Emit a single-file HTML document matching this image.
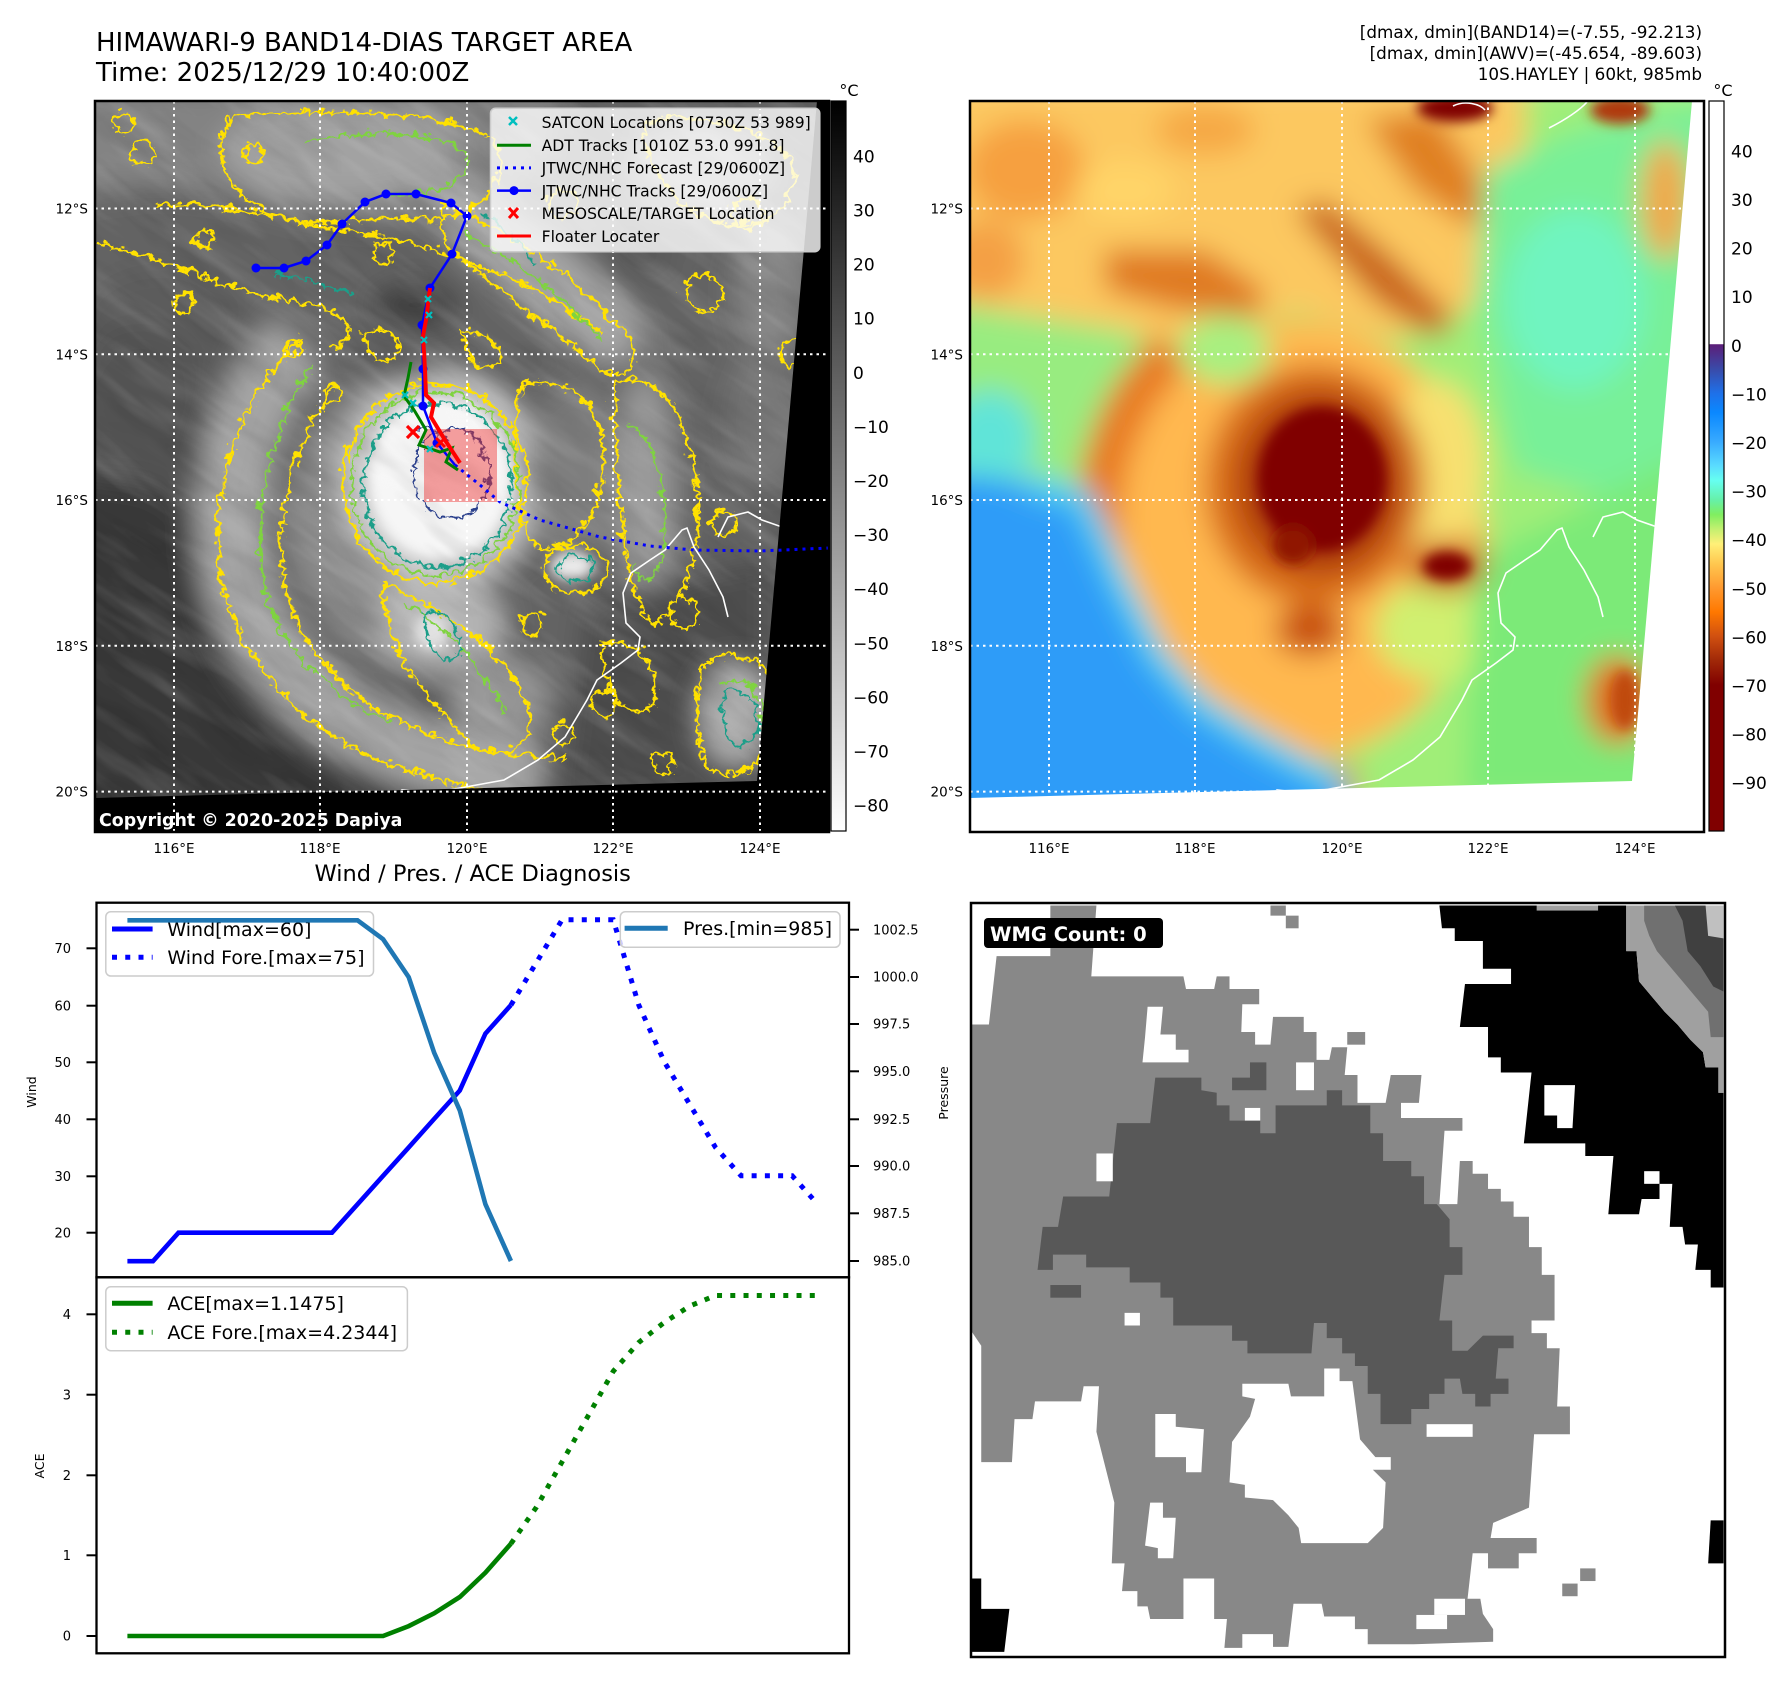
<!DOCTYPE html>
<html><head><meta charset="utf-8">
<style>
html,body{margin:0;padding:0;background:#fff;}
svg{display:block;}
text{font-family:"DejaVu Sans","Liberation Sans",sans-serif;}
</style></head><body>
<svg xmlns="http://www.w3.org/2000/svg" width="1788" height="1690" viewBox="0 0 1788 1690">
<defs>
<filter id="b14" filterUnits="userSpaceOnUse" x="0" y="0" width="1000" height="900"><feGaussianBlur stdDeviation="14"/></filter>
<filter id="b6" filterUnits="userSpaceOnUse" x="0" y="0" width="1000" height="900"><feGaussianBlur stdDeviation="6"/></filter>
<filter id="wig" filterUnits="userSpaceOnUse" x="80" y="90" width="770" height="760"><feTurbulence type="turbulence" baseFrequency="0.08" numOctaves="2" seed="3" result="t"/><feDisplacementMap in="SourceGraphic" in2="t" scale="13" xChannelSelector="R" yChannelSelector="G"/></filter>
<filter id="texw" filterUnits="userSpaceOnUse" x="-400" y="-400" width="1800" height="1800"><feTurbulence type="fractalNoise" baseFrequency="0.008 0.045" numOctaves="3" seed="5"/><feColorMatrix type="matrix" values="0 0 0 0 1 0 0 0 0 1 0 0 0 0 1 1.5 0 0 0 -0.7"/></filter>
<filter id="texk" filterUnits="userSpaceOnUse" x="-400" y="-400" width="1800" height="1800"><feTurbulence type="fractalNoise" baseFrequency="0.01 0.035" numOctaves="3" seed="11"/><feColorMatrix type="matrix" values="0 0 0 0 0 0 0 0 0 0 0 0 0 0 0 1.5 0 0 0 -0.7"/></filter>
<clipPath id="cl"><polygon points="95,101 817,101 757,781 95,798"/></clipPath>
<clipPath id="cr"><polygon points="970,101 1692,101 1632,781 970,798"/></clipPath>
<linearGradient id="gl" x1="0" y1="0" x2="0" y2="1"><stop offset="0" stop-color="#000"/><stop offset="1" stop-color="#fff"/></linearGradient>
<linearGradient id="gr" x1="0" y1="0" x2="0" y2="1">
<stop offset="0" stop-color="#fff"/><stop offset="0.333" stop-color="#fff"/>
<stop offset="0.3334" stop-color="#5c1e78"/><stop offset="0.3667" stop-color="#3a4aa8"/>
<stop offset="0.4" stop-color="#1f70e8"/><stop offset="0.4267" stop-color="#0a88ff"/>
<stop offset="0.4667" stop-color="#38aaff"/><stop offset="0.5" stop-color="#5adcff"/>
<stop offset="0.52" stop-color="#66fff0"/><stop offset="0.5467" stop-color="#66f0a8"/>
<stop offset="0.5667" stop-color="#80ee60"/><stop offset="0.5867" stop-color="#c4f070"/>
<stop offset="0.6067" stop-color="#fff078"/><stop offset="0.6333" stop-color="#ffc850"/>
<stop offset="0.6667" stop-color="#ff9a30"/><stop offset="0.7" stop-color="#ff7800"/>
<stop offset="0.7333" stop-color="#d05010"/><stop offset="0.7667" stop-color="#a02808"/>
<stop offset="0.8" stop-color="#800000"/><stop offset="1" stop-color="#800000"/>
</linearGradient>
</defs>
<rect width="1788" height="1690" fill="#fff"/>

<!-- Titles -->
<text x="96" y="51" font-size="26">HIMAWARI-9 BAND14-DIAS TARGET AREA</text>
<text x="96" y="81" font-size="26">Time: 2025/12/29 10:40:00Z</text>
<text x="1702" y="38" font-size="16.8" text-anchor="end">[dmax, dmin](BAND14)=(-7.55, -92.213)</text>
<text x="1702" y="59" font-size="16.8" text-anchor="end">[dmax, dmin](AWV)=(-45.654, -89.603)</text>
<text x="1702" y="80" font-size="16.8" text-anchor="end">10S.HAYLEY | 60kt, 985mb</text>

<!-- ============ LEFT MAP ============ -->
<rect x="95" y="101" width="734" height="731" fill="#000"/>
<g clip-path="url(#cl)">
 <g filter="url(#b14)">
  <rect x="60" y="80" width="800" height="740" fill="#646464"/>
  <path d="M60,80 H570 L545,170 L470,215 L380,222 L300,215 L220,192 L150,186 L60,200Z" fill="#828282"/>
  <ellipse cx="340" cy="150" rx="120" ry="50" fill="#a2a2a2"/>
  <path d="M420,190 L470,180 L560,240 L625,300 L645,350 L605,365 L540,320 L470,260Z" fill="#a6a6a6"/>
  <ellipse cx="700" cy="170" rx="70" ry="45" fill="#9a9a9a"/>
  <ellipse cx="640" cy="255" rx="40" ry="30" fill="#5a5a5a"/>
  <ellipse cx="770" cy="290" rx="35" ry="70" fill="#888"/>
  <ellipse cx="415" cy="305" rx="45" ry="22" fill="#3e3e3e"/>
  <ellipse cx="150" cy="140" rx="55" ry="28" fill="#848484"/>
  <ellipse cx="160" cy="330" rx="80" ry="60" fill="#5c5c5c"/>
  <ellipse cx="140" cy="430" rx="75" ry="100" fill="#525252"/>
  <path d="M40,470 L150,485 L207,523 L217,563 L231,597 L251,623 L270,647 L295,673 L319,693 L353,717 L382,740 L407,760 L431,773 L470,783 L560,790 L560,850 L40,850Z" fill="#383838"/>
  <path d="M300,345 C250,390 225,470 232,550 C240,630 290,690 360,730 C420,760 480,775 540,775" fill="none" stroke="#a4a4a4" stroke-width="70"/>
  <ellipse cx="400" cy="520" rx="110" ry="140" fill="#8c8c8c"/>
  <ellipse cx="440" cy="482" rx="100" ry="108" fill="#c8c8c8"/>
  <ellipse cx="440" cy="625" rx="65" ry="45" fill="#b4b4b4"/>
  <ellipse cx="575" cy="470" rx="50" ry="90" fill="#7e7e7e"/>
  <ellipse cx="645" cy="490" rx="30" ry="120" fill="#9a9a9a"/>
  <ellipse cx="765" cy="420" rx="40" ry="70" fill="#787878"/>
  <path d="M585,600 L770,560 L770,800 L560,800Z" fill="#4e4e4e"/>
  <ellipse cx="735" cy="715" rx="35" ry="50" fill="#b2b2b2"/>
  <ellipse cx="500" cy="700" rx="50" ry="40" fill="#9a9a9a"/>
 </g>
 <g filter="url(#b6)">
  <ellipse cx="440" cy="478" rx="72" ry="82" fill="#f6f6f6"/>
  <ellipse cx="572" cy="566" rx="22" ry="14" fill="#eaeaea"/>
  <ellipse cx="432" cy="632" rx="18" ry="18" fill="#e0e0e0"/>
 </g>
 <g transform="rotate(35 460 450)">
  <rect x="-200" y="-200" width="1300" height="1300" filter="url(#texw)" opacity="0.22"/>
  <rect x="-200" y="-200" width="1300" height="1300" filter="url(#texk)" opacity="0.15"/>
 </g>
 <!-- contours -->
 <g filter="url(#wig)" fill="none" stroke-width="2.8">
  <g stroke="#ffe100">
   <ellipse cx="432" cy="480" rx="92" ry="100"/>
   <path d="M298,335 C245,385 210,465 215,550 C222,635 275,700 345,742 C410,775 480,790 545,792"/>
   <path d="M335,380 C295,430 272,500 280,575 C292,645 345,695 410,725 C460,745 515,755 565,755"/>
   <path d="M152,201 C200,200 260,210 300,220 C360,228 420,240 470,260 C520,280 560,300 600,330"/>
   <path d="M230,112 C300,108 420,104 482,130 C525,160 475,222 420,216 C350,210 300,232 250,202 C220,182 205,140 230,112Z"/>
   <path d="M440,200 C500,228 565,262 622,330 C642,362 620,382 590,362 C550,322 490,282 440,240Z"/>
   <path d="M612,380 C642,360 682,402 692,470 C702,540 682,602 652,622 C622,602 612,500 612,380Z"/>
   <path d="M700,660 C742,640 782,662 772,722 C762,772 722,782 702,762 C690,722 690,690 700,660Z"/>
   <ellipse cx="572" cy="566" rx="32" ry="24"/>
   <path d="M380,580 C430,600 500,640 522,700 C540,740 500,762 470,742 C430,702 380,652 380,580Z"/>
   <path d="M520,380 C560,370 600,400 600,450 C600,520 560,560 530,540 C510,500 505,420 520,380Z"/>
   <path d="M640,120 C680,105 760,120 790,160 C800,200 760,230 720,220 C680,210 640,170 640,120Z"/>
   <path d="M95,240 C150,250 220,290 300,300 C340,305 360,330 330,345"/>
   <path d="M600,640 C630,630 660,660 650,700 C630,720 600,700 600,640Z"/>
   <path d="M360,330 C380,320 400,330 395,350 C385,365 360,355 360,330Z"/>
   <path d="M460,330 C480,325 500,340 495,360 C480,370 460,360 460,330Z"/>
   <circle cx="140" cy="150" r="12"/><circle cx="180" cy="300" r="10"/><circle cx="560" cy="200" r="14"/>
   <circle cx="700" cy="290" r="18"/><circle cx="745" cy="210" r="16"/><circle cx="120" cy="120" r="9"/>
   <circle cx="600" cy="700" r="13"/><circle cx="680" cy="610" r="14"/><circle cx="530" cy="620" r="11"/>
   <circle cx="790" cy="350" r="14"/><circle cx="250" cy="150" r="9"/><circle cx="380" cy="250" r="10"/>
   <circle cx="200" cy="235" r="9"/><circle cx="290" cy="345" r="8"/><circle cx="330" cy="390" r="9"/>
   <circle cx="720" cy="520" r="12"/><circle cx="660" cy="760" r="10"/><circle cx="560" cy="730" r="10"/>
  </g>
  <g stroke="#7fd33f" stroke-width="2.4">
   <ellipse cx="432" cy="480" rx="84" ry="92"/>
   <path d="M310,360 C270,420 250,500 258,570 C270,640 320,690 390,720"/>
   <path d="M300,140 C360,125 430,125 462,150 C470,180 430,195 390,190"/>
   <path d="M460,230 C520,260 570,300 600,340"/>
   <path d="M625,420 C650,430 665,480 660,540 C655,580 640,590 630,560"/>
   <path d="M400,600 C440,620 480,660 500,710"/>
   <path d="M715,680 C745,670 765,690 760,730"/>
  </g>
  <g stroke="#1f9e89" stroke-width="2.4">
   <ellipse cx="434" cy="482" rx="74" ry="82"/>
   <ellipse cx="572" cy="566" rx="18" ry="13"/>
   <path d="M720,690 C740,680 760,700 755,730 C745,750 725,745 720,720Z"/>
   <path d="M420,610 C440,600 460,620 455,650 C440,665 420,650 420,610Z"/>
   <path d="M270,270 C300,275 330,285 350,290"/>
   <path d="M480,210 C500,225 520,240 530,260"/>
  </g>
  <g stroke="#2c3f8c" stroke-width="2">
   <ellipse cx="448" cy="470" rx="38" ry="45"/>
   <path d="M410,430 C420,420 440,425 445,440"/>
  </g>
 </g>
 <!-- coastline -->
 <g fill="none" stroke="#fff" stroke-width="1.6">
  <path d="M387,802 L402,790 L431,793 L460,788 L504,780 L538,760 L565,737 L587,700 L597,680 L621,663 L638,650 L640,637 L626,623 L623,593 L631,573 L650,560 L665,550 L682,530 L687,528 L694,547 L709,570 L723,597 L728,617"/>
  <path d="M718,537 L728,517 L748,512 L762,520 L782,527 L823,530"/>
  <path d="M792,490 L806,487 L792,470 L811,447 L821,430"/>
 </g>
</g>
<!-- pink target box -->
<rect x="424" y="429" width="73" height="73" fill="#f03030" opacity="0.45"/>
<!-- tracks -->
<polyline points="455,465 480,485 500,502 540,520 600,537 650,546 694,550 760,551 829,548" fill="none" stroke="#0000ff" stroke-width="3" stroke-dasharray="3 5"/>
<polyline points="256,268 284,268 306,261 327,245 342,224 365,202 386,194 416,194 451,203 467,216 452,254 430,288 422,325 423,369 423,406 437,443 455,465" fill="none" stroke="#0000ff" stroke-width="2.5"/>
<g fill="#0000ff">
 <circle cx="256" cy="268" r="4.5"/><circle cx="284" cy="268" r="4.5"/><circle cx="306" cy="261" r="4.5"/><circle cx="327" cy="245" r="4.5"/><circle cx="342" cy="224" r="4.5"/><circle cx="365" cy="202" r="4.5"/><circle cx="386" cy="194" r="4.5"/><circle cx="416" cy="194" r="4.5"/><circle cx="451" cy="203" r="4.5"/><circle cx="467" cy="216" r="4.5"/><circle cx="452" cy="254" r="4.5"/><circle cx="430" cy="288" r="4.5"/><circle cx="422" cy="325" r="4.5"/><circle cx="423" cy="369" r="4.5"/><circle cx="423" cy="406" r="4.5"/><circle cx="437" cy="443" r="4.5"/>
</g>
<polyline points="411,362 408,378 404,396 414,410 426,430 419,445 440,452 452,448 446,462 458,470" fill="none" stroke="#008000" stroke-width="3"/>
<polyline points="430,288 426,320 423,336 425,370 426,395 434,403 431,417 445,440 460,463" fill="none" stroke="#ff0000" stroke-width="4"/>
<g stroke="#00c0c0" stroke-width="2.2">
 <path d="M425,296 l6,6 M431,296 l-6,6"/><path d="M426,312 l6,6 M432,312 l-6,6"/><path d="M421,337 l6,6 M427,337 l-6,6"/>
 <path d="M402,392 l6,6 M408,392 l-6,6"/><path d="M410,400 l6,6 M416,400 l-6,6"/><path d="M427,446 l6,6 M433,446 l-6,6"/>
</g>
<path d="M407,426 l12,12 M419,426 l-12,12" stroke="#ff0000" stroke-width="3.2"/>
<path d="M436,438 l9,9 M445,438 l-9,9" stroke="#ff0000" stroke-width="3"/>
<!-- gridlines left -->
<g stroke="#fff" stroke-width="2" stroke-dasharray="2.5 4">
 <line x1="174" y1="101" x2="174" y2="832"/><line x1="320" y1="101" x2="320" y2="832"/><line x1="467" y1="101" x2="467" y2="832"/><line x1="613" y1="101" x2="613" y2="832"/><line x1="760" y1="101" x2="760" y2="832"/>
 <line x1="95" y1="208.5" x2="829" y2="208.5"/><line x1="95" y1="354.3" x2="829" y2="354.3"/><line x1="95" y1="500" x2="829" y2="500"/><line x1="95" y1="645.8" x2="829" y2="645.8"/><line x1="95" y1="791.6" x2="829" y2="791.6"/>
</g>
<text x="99" y="826" font-size="17.4" font-weight="bold" fill="#fff">Copyright © 2020-2025 Dapiya</text>
<!-- legend map -->
<rect x="490.5" y="108.3" width="329.3" height="143.4" rx="5" fill="#fff" fill-opacity="0.8" stroke="#cccccc" stroke-width="1.5"/>
<g font-size="15.6">
 <path d="M509,117 l8,8 M517,117 l-8,8" stroke="#00bfbf" stroke-width="2.5"/>
 <text x="541.6" y="128">SATCON Locations [0730Z 53 989]</text>
 <line x1="497" y1="145.2" x2="531" y2="145.2" stroke="#008000" stroke-width="3"/>
 <text x="541.6" y="151">ADT Tracks [1010Z 53.0 991.8]</text>
 <line x1="497" y1="167.9" x2="531" y2="167.9" stroke="#0000ff" stroke-width="3" stroke-dasharray="3 5"/>
 <text x="541.6" y="173.7">JTWC/NHC Forecast [29/0600Z]</text>
 <line x1="497" y1="190.6" x2="531" y2="190.6" stroke="#0000ff" stroke-width="2.5"/><circle cx="514" cy="190.6" r="4.5" fill="#0000ff"/>
 <text x="541.6" y="196.4">JTWC/NHC Tracks [29/0600Z]</text>
 <path d="M509,208 l9,10 M518,208 l-9,10" stroke="#ff0000" stroke-width="3"/>
 <text x="541.6" y="219.1">MESOSCALE/TARGET Location</text>
 <line x1="497" y1="236" x2="531" y2="236" stroke="#ff0000" stroke-width="3"/>
 <text x="541.6" y="241.8">Floater Locater</text>
</g>
<rect x="95" y="101" width="734" height="731" fill="none" stroke="#000" stroke-width="2.5"/>
<!-- left colorbar -->
<rect x="831" y="101" width="15" height="730" fill="url(#gl)" stroke="#000" stroke-width="1.2"/>
<text x="849" y="96" font-size="16" text-anchor="middle">°C</text>
<g font-size="17">
 <text x="853" y="162.4">40</text><text x="853" y="216.5">30</text><text x="853" y="270.6">20</text><text x="853" y="324.7">10</text><text x="853" y="378.8">0</text>
 <text x="853" y="432.9">−10</text><text x="853" y="487">−20</text><text x="853" y="541.1">−30</text><text x="853" y="595.2">−40</text><text x="853" y="649.3">−50</text><text x="853" y="703.4">−60</text><text x="853" y="757.5">−70</text><text x="853" y="811.6">−80</text>
</g>
<!-- lat/lon labels -->
<g font-size="13.5" text-anchor="end">
 <text x="88" y="213.5">12°S</text><text x="88" y="359.3">14°S</text><text x="88" y="505">16°S</text><text x="88" y="650.8">18°S</text><text x="88" y="796.6">20°S</text>
 <text x="963" y="213.5">12°S</text><text x="963" y="359.3">14°S</text><text x="963" y="505">16°S</text><text x="963" y="650.8">18°S</text><text x="963" y="796.6">20°S</text>
</g>
<g font-size="13.5" text-anchor="middle">
 <text x="174" y="853">116°E</text><text x="320" y="853">118°E</text><text x="467" y="853">120°E</text><text x="613" y="853">122°E</text><text x="760" y="853">124°E</text>
 <text x="1049" y="853">116°E</text><text x="1195" y="853">118°E</text><text x="1342" y="853">120°E</text><text x="1488" y="853">122°E</text><text x="1635" y="853">124°E</text>
</g>

<!-- ============ RIGHT MAP ============ -->
<g clip-path="url(#cr)">
 <g transform="translate(875,0)">
  <g filter="url(#b14)">
   <rect x="60" y="80" width="800" height="740" fill="#a0ee78"/>
   <path d="M60,80 L650,80 L650,180 L610,300 L520,340 L420,310 L330,340 L230,345 L150,330 L60,300Z" fill="#fcc860"/>
   <ellipse cx="150" cy="170" rx="60" ry="50" fill="#f6a040"/>
   <ellipse cx="110" cy="260" rx="40" ry="40" fill="#f4a044"/>
   <ellipse cx="330" cy="130" rx="50" ry="25" fill="#f6a844"/>
   <path d="M230,250 L330,250 L390,290 L380,320 L300,310 L230,290Z" fill="#e07a20"/>
   <path d="M420,210 L450,200 L520,260 L580,320 L560,340 L500,300Z" fill="#c86014"/>
   <path d="M490,120 L560,110 L620,200 L600,230 L540,190Z" fill="#e08020"/>
   <ellipse cx="250" cy="190" rx="50" ry="30" fill="#ffd468"/>
   <path d="M610,170 L700,130 L840,100 L840,440 L740,500 L640,470 L600,300Z" fill="#78f098"/>
   <ellipse cx="700" cy="300" rx="70" ry="90" fill="#70f4c0"/>
   <ellipse cx="790" cy="200" rx="25" ry="60" fill="#f0a848"/>
   <path d="M60,300 L250,330 L320,360 L300,440 L200,470 L60,480Z" fill="#98ec80"/>
   <ellipse cx="115" cy="440" rx="45" ry="50" fill="#60e4d8"/>
   <ellipse cx="420" cy="540" rx="190" ry="220" fill="#ffb850"/>
   <path d="M300,350 C240,400 215,480 225,560 C235,640 280,700 340,740 C390,770 440,785 480,790" fill="none" stroke="#e87a20" stroke-width="45"/>
   <ellipse cx="350" cy="350" rx="45" ry="35" fill="#a8f080"/>
   <ellipse cx="560" cy="470" rx="50" ry="90" fill="#f8e070"/>
   <ellipse cx="560" cy="630" rx="60" ry="50" fill="#d0f070"/>
   <path d="M600,560 L840,440 L840,800 L590,800Z" fill="#7cea78"/>
   <ellipse cx="742" cy="700" rx="32" ry="45" fill="#e07020"/>
   <ellipse cx="440" cy="485" rx="110" ry="120" fill="#d86c18"/>
   <ellipse cx="445" cy="482" rx="82" ry="90" fill="#a83410"/>
   <ellipse cx="435" cy="630" rx="35" ry="25" fill="#c85010"/>
   <ellipse cx="572" cy="566" rx="40" ry="26" fill="#c85818"/>
   <path d="M40,470 L150,482 L207,499 L244,582 L281,655 L324,704 L377,738 L430,767 L467,787 L480,850 L40,850Z" fill="#2e9cf8"/>
   <path d="M150,482 L207,499 L244,582 L281,655 L324,704 L377,738 L430,767 L467,787" fill="none" stroke="#50d0f0" stroke-width="22"/>
  </g>
  <g filter="url(#b6)">
   <ellipse cx="447" cy="479" rx="64" ry="72" fill="#800000"/>
   <ellipse cx="418" cy="545" rx="20" ry="19" fill="#901800"/>
   <ellipse cx="572" cy="566" rx="24" ry="14" fill="#800000"/>
   <ellipse cx="580" cy="108" rx="38" ry="14" fill="#800000"/>
   <ellipse cx="745" cy="110" rx="30" ry="14" fill="#b03808"/>
   <ellipse cx="750" cy="700" rx="14" ry="30" fill="#c04810"/>
  </g>
  <g fill="none" stroke="#fff" stroke-width="1.6">
   <path d="M387,802 L402,790 L431,793 L460,788 L504,780 L538,760 L565,737 L587,700 L597,680 L621,663 L638,650 L640,637 L626,623 L623,593 L631,573 L650,560 L665,550 L682,530 L687,528 L694,547 L709,570 L723,597 L728,617"/>
   <path d="M718,537 L728,517 L748,512 L762,520 L782,527 L823,530"/>
   <path d="M578,106 C590,100 605,104 610,110 M674,128 C690,120 705,110 712,102"/>
  </g>
 </g>
</g>
<g stroke="#fff" stroke-width="2" stroke-dasharray="2.5 4">
 <line x1="1049" y1="101" x2="1049" y2="832"/><line x1="1195" y1="101" x2="1195" y2="832"/><line x1="1342" y1="101" x2="1342" y2="832"/><line x1="1488" y1="101" x2="1488" y2="832"/><line x1="1635" y1="101" x2="1635" y2="832"/>
 <line x1="970" y1="208.5" x2="1704" y2="208.5"/><line x1="970" y1="354.3" x2="1704" y2="354.3"/><line x1="970" y1="500" x2="1704" y2="500"/><line x1="970" y1="645.8" x2="1704" y2="645.8"/><line x1="970" y1="791.6" x2="1704" y2="791.6"/>
</g>
<rect x="970" y="101" width="734" height="731" fill="none" stroke="#000" stroke-width="2.5"/>
<rect x="1709" y="101" width="15" height="730" fill="url(#gr)" stroke="#000" stroke-width="1.2"/>
<text x="1723" y="96" font-size="16" text-anchor="middle">°C</text>
<g font-size="17">
 <text x="1731" y="157.4">40</text><text x="1731" y="206">30</text><text x="1731" y="254.6">20</text><text x="1731" y="303.2">10</text><text x="1731" y="351.8">0</text>
 <text x="1731" y="400.4">−10</text><text x="1731" y="449">−20</text><text x="1731" y="497.6">−30</text><text x="1731" y="546.2">−40</text><text x="1731" y="594.8">−50</text><text x="1731" y="643.4">−60</text><text x="1731" y="692">−70</text><text x="1731" y="740.6">−80</text><text x="1731" y="789.2">−90</text>
</g>

<!-- ============ WIND / PRES CHART ============ -->
<text x="472.7" y="881" font-size="22.5" text-anchor="middle">Wind / Pres. / ACE Diagnosis</text>
<rect x="105.8" y="911.7" width="267.7" height="64.3" rx="5" fill="#fff" fill-opacity="0.8" stroke="#cccccc" stroke-width="1.5"/>
<line x1="112" y1="929" x2="152.6" y2="929" stroke="#0000ff" stroke-width="5"/>
<text x="167.4" y="935.8" font-size="19">Wind[max=60]</text>
<line x1="112" y1="957.3" x2="152.6" y2="957.3" stroke="#0000ff" stroke-width="5" stroke-dasharray="5 8.25"/>
<text x="167.4" y="964.1" font-size="19">Wind Fore.[max=75]</text>
<polyline points="127.4,1261.2 153,1261.2 178.5,1232.7 204.1,1232.7 229.7,1232.7 255.3,1232.7 280.8,1232.7 306.4,1232.7 332,1232.7 357.5,1204.3 383.1,1175.8 408.7,1147.4 434.2,1118.9 459.8,1090.5 485.4,1033.6 510.9,1005.1" fill="none" stroke="#0000ff" stroke-width="4.6"/>
<polyline points="510.9,1005.1 536.5,962.4 562.1,919.7 587.7,919.7 613.2,919.7 638.8,1005.1 664.4,1062 689.9,1104.7 715.5,1147.4 741.1,1175.8 766.6,1175.8 792.2,1175.8 817.8,1204.3" fill="none" stroke="#0000ff" stroke-width="5" stroke-dasharray="5 8.25"/>
<polyline points="127.4,920.3 153,920.3 178.5,920.3 204.1,920.3 229.7,920.3 255.3,920.3 280.8,920.3 306.4,920.3 332,920.3 357.5,920.3 383.1,939.2 408.7,977.1 434.2,1052.8 459.8,1110.4 485.4,1204.2 510.9,1261" fill="none" stroke="#1f77b4" stroke-width="4.6"/>
<rect x="620.3" y="911.7" width="219.7" height="35.6" rx="5" fill="#fff" fill-opacity="0.8" stroke="#cccccc" stroke-width="1.5"/>
<line x1="624.6" y1="928.3" x2="667.7" y2="928.3" stroke="#1f77b4" stroke-width="5"/>
<text x="683" y="935.1" font-size="19">Pres.[min=985]</text>
<rect x="96.5" y="902.7" width="752.5" height="374.6" fill="none" stroke="#000" stroke-width="2.3"/>
<g stroke="#000" stroke-width="2">
 <line x1="86.5" y1="948.3" x2="96.5" y2="948.3"/><line x1="86.5" y1="1005.7" x2="96.5" y2="1005.7"/><line x1="86.5" y1="1062.3" x2="96.5" y2="1062.3"/><line x1="86.5" y1="1119.3" x2="96.5" y2="1119.3"/><line x1="86.5" y1="1176.3" x2="96.5" y2="1176.3"/><line x1="86.5" y1="1232.7" x2="96.5" y2="1232.7"/>
 <line x1="849" y1="929.7" x2="859" y2="929.7"/><line x1="849" y1="977" x2="859" y2="977"/><line x1="849" y1="1024" x2="859" y2="1024"/><line x1="849" y1="1071.3" x2="859" y2="1071.3"/><line x1="849" y1="1119.3" x2="859" y2="1119.3"/><line x1="849" y1="1166" x2="859" y2="1166"/><line x1="849" y1="1213.3" x2="859" y2="1213.3"/><line x1="849" y1="1261" x2="859" y2="1261"/>
</g>
<g font-size="13" text-anchor="end">
 <text x="71" y="953">70</text><text x="71" y="1010.4">60</text><text x="71" y="1067">50</text><text x="71" y="1124">40</text><text x="71" y="1181">30</text><text x="71" y="1237.4">20</text>
</g>
<g font-size="13">
 <text x="873" y="934.4">1002.5</text><text x="873" y="981.7">1000.0</text><text x="873" y="1028.7">997.5</text><text x="873" y="1076">995.0</text><text x="873" y="1124">992.5</text><text x="873" y="1170.7">990.0</text><text x="873" y="1218">987.5</text><text x="873" y="1265.7">985.0</text>
</g>
<text transform="translate(36,1092) rotate(-90)" font-size="12.5" text-anchor="middle">Wind</text>
<text transform="translate(948,1093) rotate(-90)" font-size="12.5" text-anchor="middle">Pressure</text>

<!-- ============ ACE CHART ============ -->
<polyline points="127.4,1636 153,1636 178.5,1636 204.1,1636 229.7,1636 255.3,1636 280.8,1636 306.4,1636 332,1636 357.5,1636 383.1,1636 408.7,1626.1 434.2,1613.3 459.8,1597 485.4,1572.7 510.9,1543.7" fill="none" stroke="#008000" stroke-width="4.6"/>
<polyline points="510.9,1543.7 536.5,1507.1 562.1,1461.8 587.7,1416.6 613.2,1371.3 638.8,1342.4 664.4,1322.3 689.9,1306 715.5,1295.5 741.1,1295.5 766.6,1295.5 792.2,1295.5 817.8,1295.5" fill="none" stroke="#008000" stroke-width="5" stroke-dasharray="5 8.25"/>
<rect x="105.8" y="1286.7" width="301.6" height="64" rx="5" fill="#fff" fill-opacity="0.8" stroke="#cccccc" stroke-width="1.5"/>
<line x1="112" y1="1303.3" x2="152.6" y2="1303.3" stroke="#008000" stroke-width="5"/>
<text x="167.4" y="1310.1" font-size="19">ACE[max=1.1475]</text>
<line x1="112" y1="1332.3" x2="152.6" y2="1332.3" stroke="#008000" stroke-width="5" stroke-dasharray="5 8.25"/>
<text x="167.4" y="1339.1" font-size="19">ACE Fore.[max=4.2344]</text>
<rect x="96.5" y="1277.3" width="752.5" height="376" fill="none" stroke="#000" stroke-width="2.3"/>
<g stroke="#000" stroke-width="2">
 <line x1="86.5" y1="1314.3" x2="96.5" y2="1314.3"/><line x1="86.5" y1="1394.7" x2="96.5" y2="1394.7"/><line x1="86.5" y1="1475.3" x2="96.5" y2="1475.3"/><line x1="86.5" y1="1555.3" x2="96.5" y2="1555.3"/><line x1="86.5" y1="1636" x2="96.5" y2="1636"/>
</g>
<g font-size="13" text-anchor="end">
 <text x="71" y="1319">4</text><text x="71" y="1399.4">3</text><text x="71" y="1480">2</text><text x="71" y="1560">1</text><text x="71" y="1640.7">0</text>
</g>
<text transform="translate(44,1466) rotate(-90)" font-size="12.5" text-anchor="middle">ACE</text>

<!-- ============ WMG PANEL ============ -->
<g transform="translate(971,903) scale(0.5119,0.506) translate(-20,-25)">
 <rect x="20" y="25" width="1473" height="1490" fill="#fff"/>
 <polygon fill="#888888" points="20,265 55,265 70,130 175,130 175,30 265,30 255,170 345,170 435,170 440,195 495,195 500,170 525,170 525,195 583,195 583,225 550,225 548,280 575,280 575,305 605,305 610,250 670,250 670,280 695,280 695,335 720,335 725,310 755,310 750,365 775,365 775,420 830,420 840,365 900,365 895,420 860,420 860,450 980,450 980,475 945,475 935,620 970,620 975,535 1000,535 1000,560 1030,560 1030,590 1055,590 1055,615 1080,615 1080,645 1110,645 1110,705 1135,705 1135,760 1160,760 1160,850 1115,850 1115,875 1145,875 1145,905 1170,905 1165,1020 1190,1020 1190,1075 1120,1075 1110,1220 1040,1250 1035,1280 1125,1280 1125,1310 1090,1310 1090,1340 1030,1340 1030,1310 1000,1310 990,1400 1015,1400 1020,1430 1040,1460 1040,1485 885,1490 795,1490 795,1460 770,1460 770,1435 710,1435 705,1410 650,1410 640,1495 610,1495 610,1470 550,1470 550,1497 515,1497 520,1440 495,1440 495,1360 435,1360 435,1440 370,1440 365,1415 345,1415 345,1385 315,1385 320,1330 295,1330 300,1210 285,1150 265,1070 270,980 240,980 235,1010 145,1010 140,1045 105,1045 100,1130 40,1130 40,900 20,870"/>
 <g fill="#888888">
  <rect x="605" y="30" width="30" height="20"/><rect x="635" y="50" width="25" height="25"/><rect x="1175" y="1370" width="30" height="25"/><rect x="1210" y="1340" width="30" height="25"/><rect x="755" y="280" width="35" height="25"/>
 </g>
 <polygon fill="#585858" points="380,370 470,370 470,395 500,400 500,425 525,425 525,455 585,455 585,480 615,480 615,425 715,425 715,395 745,395 745,425 800,425 800,480 825,480 825,535 880,535 880,565 905,565 905,620 930,620 955,650 955,705 980,705 980,760 945,760 935,850 960,850 960,910 990,910 1020,880 1080,880 1080,905 1050,905 1045,965 1070,965 1070,995 1035,995 1035,1020 1005,1020 1005,995 980,995 975,965 945,965 945,995 915,995 915,1025 880,1025 880,1055 820,1055 820,995 795,995 795,940 770,940 770,915 745,915 745,885 715,885 715,855 690,855 685,915 560,915 560,890 530,890 530,860 415,860 415,805 390,805 390,775 330,775 330,745 245,745 245,720 180,720 180,750 150,750 160,665 190,665 200,605 290,605 305,460 370,460"/>
 <polygon fill="#585858" points="530,370 565,370 565,340 597,340 597,395 530,395"/>
 <rect x="175" y="780" width="60" height="25" fill="#585858"/>
 <g fill="#fff">
  <polygon points="550,975 640,975 645,1000 710,1000 710,945 740,945 740,970 765,970 780,1085 810,1120 840,1120 840,1145 805,1145 830,1170 825,1260 795,1290 665,1290 660,1260 640,1235 610,1205 555,1200 555,1175 525,1170 530,1090 565,1040 575,1005 550,1000"/>
  <polygon points="380,1035 420,1035 420,1060 475,1065 470,1150 440,1150 440,1120 380,1120"/>
  <polygon points="370,1210 395,1210 395,1240 420,1240 415,1320 385,1320 385,1300 360,1295"/>
  <polygon points="365,230 395,230 390,285 420,285 420,315 445,315 445,340 355,340 360,290"/>
  <rect x="265" y="520" width="32" height="55"/><rect x="320" y="835" width="30" height="25"/><rect x="555" y="430" width="30" height="25"/><rect x="655" y="340" width="35" height="55"/><rect x="910" y="1055" width="90" height="25"/><rect x="890" y="1432" width="60" height="28"/><rect x="925" y="1400" width="60" height="32"/>
 </g>
 <polygon fill="#000" points="910,30 1300,30 1300,120 1320,120 1325,180 1350,210 1375,240 1400,265 1425,295 1450,320 1455,350 1480,350 1480,400 1490,400 1490,785 1465,785 1465,750 1435,750 1440,700 1415,700 1410,665 1385,665 1390,580 1365,580 1365,610 1330,610 1325,640 1265,640 1275,525 1220,525 1220,500 1100,500 1115,360 1055,360 1055,330 1030,330 1030,270 975,270 985,185 1075,185 1075,155 1020,155 1020,100 965,100 965,75 940,75 935,30"/>
 <rect x="1125" y="30" width="120" height="10" fill="#a0a0a0"/>
 <polygon fill="#a0a0a0" points="1300,30 1490,30 1490,400 1480,400 1480,350 1455,350 1450,320 1425,295 1400,265 1375,240 1350,210 1325,180 1320,120 1300,120"/>
 <polygon fill="#707070" points="1335,30 1490,30 1490,290 1465,290 1460,240 1435,210 1410,180 1385,150 1360,120 1345,90 1335,60"/>
 <polygon fill="#404040" points="1395,30 1490,30 1490,200 1470,190 1445,150 1420,120 1410,60"/>
 <polygon fill="#c0c0c0" points="1455,30 1490,30 1490,95 1460,90"/>
 <g fill="#fff">
  <polygon points="1140,385 1200,385 1195,470 1165,470 1165,445 1140,445"/>
  <rect x="1335" y="555" width="30" height="25"/>
 </g>
 <polygon fill="#000" points="20,1360 40,1360 40,1420 95,1420 85,1505 20,1505"/>
 <polygon fill="#000" points="1465,1245 1490,1245 1490,1330 1460,1330"/>
</g>
<rect x="971" y="903" width="754" height="754" fill="none" stroke="#000" stroke-width="2.5"/>
<rect x="984" y="918" width="179" height="30" rx="4" fill="#000"/>
<text x="990" y="941" font-size="19.5" font-weight="bold" fill="#fff">WMG Count: 0</text>
</svg>
</body></html>
